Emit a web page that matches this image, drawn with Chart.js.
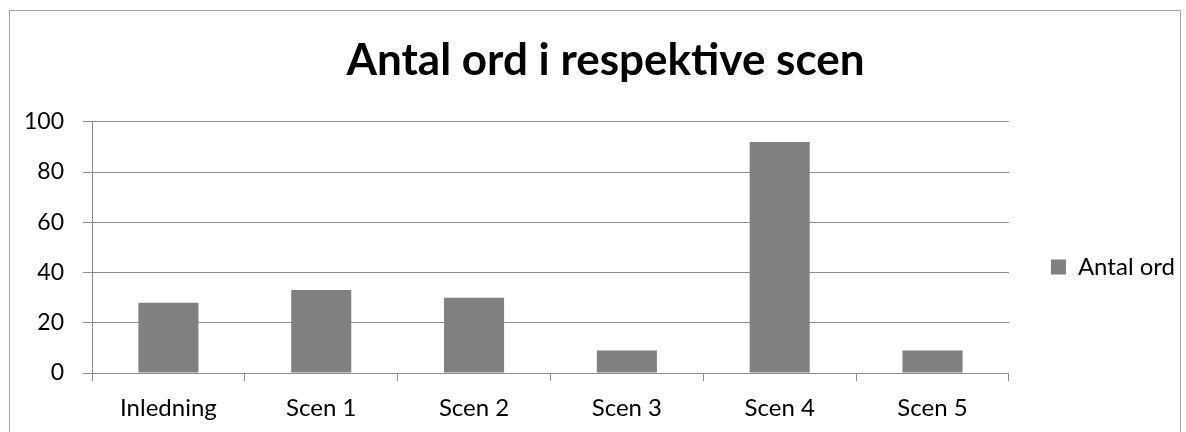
<html lang="sv">
<head>
    <meta charset="UTF-8">
    <title>Antal ord i respektive scen</title>
    <script src="https://cdn.jsdelivr.net/npm/chart.js"></script>
    <style>
        body { margin: 0; background: #fff; }
        #wrap { position: relative; width: 1186px; height: 432px; overflow: hidden; }
        #frame { position: absolute; left: 9px; top: 10px; width: 1172px; height: 440px; border: 1px solid #a6a6a6; box-sizing: border-box; }
        canvas { position: absolute; left: 0; top: 0; }
    </style>
</head>
<body>
<div id="wrap">
    <div id="frame"></div>
    <canvas id="myChart" width="1186" height="432"></canvas>
</div>
<script>
    // data
    const scenes = ['Inledning', 'Scen 1', 'Scen 2', 'Scen 3', 'Scen 4', 'Scen 5'];
    const antalOrd = [28, 33, 30, 9, 92, 9];
    const seriesName = 'Antal ord';
    const chartTitle = 'Antal ord i respektive scen';

    const fontFamily = 'Lato, "Open Sans", sans-serif';
    const gridColor = '#8c8c8c';

    // move legend away from the plot and down a bit, title slightly right
    const nudge = {
        id: 'nudge',
        afterLayout(chart) {
            const lg = chart.legend;
            const dx = chart.chartArea.right + 34 - lg.left;
            lg.left += dx; lg.right += dx;
            lg.top += 51; lg.bottom += 51;
            const tb = chart.titleBlock;
            tb.left += 25; tb.right += 25;
        }
    };

    var ctx = document.getElementById('myChart').getContext('2d');
    var myChart = new Chart(ctx, {
        type: 'bar',
        data: {
            labels: scenes,
            datasets: [{
                label: seriesName,
                data: antalOrd,
                backgroundColor: '#808080',
                borderWidth: 0,
                barPercentage: 0.393,
                categoryPercentage: 1.0
            }]
        },
        plugins: [nudge],
        options: {
            responsive: false,
            animation: false,
            layout: { padding: { left: 10, right: 35, top: 0, bottom: 0 } },
            plugins: {
                title: {
                    display: true,
                    text: chartTitle,
                    color: '#000',
                    font: { family: fontFamily, size: 44, weight: 'bold' },
                    padding: { top: 34, bottom: 35 }
                },
                legend: {
                    position: 'right',
                    labels: {
                        color: '#000',
                        font: { family: fontFamily, size: 24 },
                        boxWidth: 15,
                        boxHeight: 15,
                        padding: 8
                    }
                },
                tooltip: { enabled: false }
            },
            scales: {
                x: {
                    grid: {
                        display: true,
                        drawOnChartArea: false,
                        drawTicks: true,
                        tickLength: 8,
                        color: gridColor,
                        offset: true
                    },
                    border: { color: gridColor, width: 1 },
                    ticks: {
                        color: '#000',
                        font: { family: fontFamily, size: 24 },
                        padding: 13,
                        maxRotation: 0,
                        autoSkip: false
                    },
                    afterFit: function (scale) { scale.height = 59; }
                },
                y: {
                    min: 0,
                    max: 100,
                    grid: {
                        color: gridColor,
                        tickLength: 9
                    },
                    border: { color: gridColor, width: 1 },
                    ticks: {
                        stepSize: 20,
                        color: '#000',
                        font: { family: fontFamily, size: 23 },
                        padding: 19
                    },
                    afterFit: function (scale) { scale.width = 82; }
                }
            }
        }
    });
</script>
</body>
</html>
